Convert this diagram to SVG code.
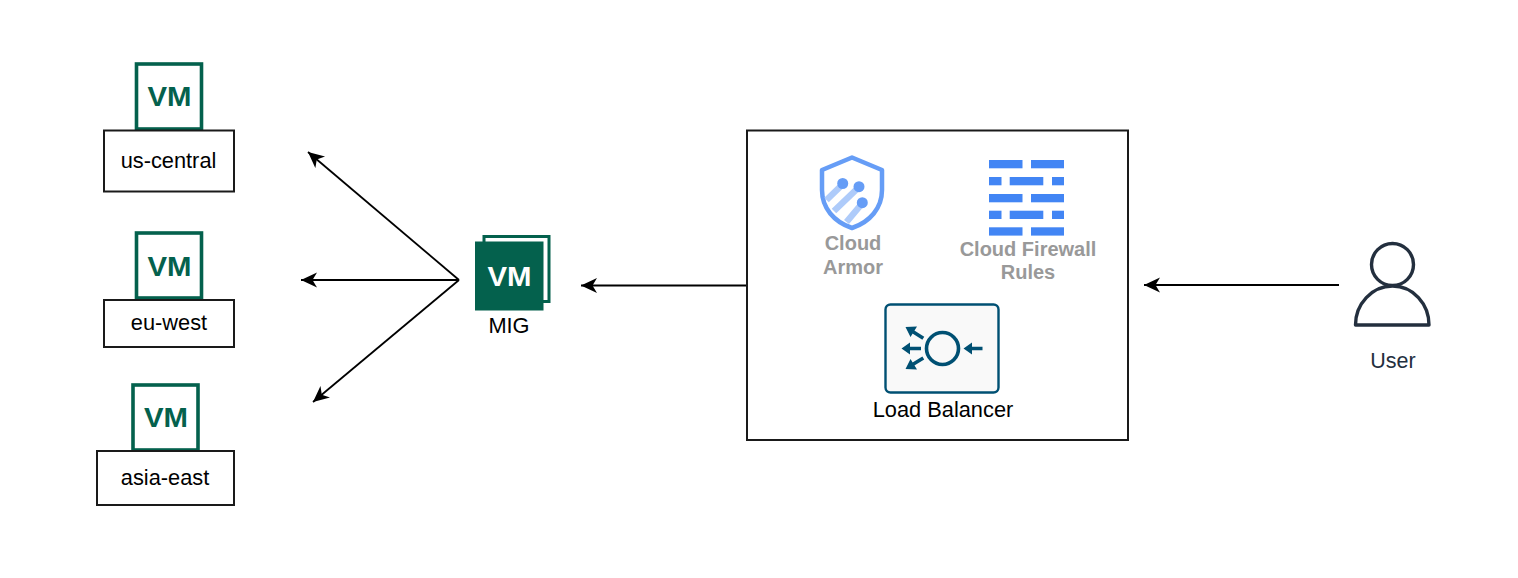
<svg xmlns="http://www.w3.org/2000/svg" width="1518" height="578" viewBox="0 0 1518 578">
<style>
text{font-family:"Liberation Sans",Arial,sans-serif;text-anchor:middle}
.lbl{font-size:21.800px;fill:#000}
.gray{font-size:20px;font-weight:bold;fill:#999}
.vm{font-size:28px;font-weight:bold;fill:#04614d}
.box{fill:#fff;stroke:#1a1a1a;stroke-width:2}
.vmbox{fill:#fff;stroke:#04614d;stroke-width:3.6}
.conn{fill:none;stroke:#000;stroke-width:1.8;marker-end:url(#arrow)}
.fw{fill:#4285f4}
.lb{fill:none;stroke:#005073;stroke-width:3.600}
.lbf{fill:#005073}
</style>
<defs>
<marker id="arrow" markerUnits="userSpaceOnUse" markerWidth="20" markerHeight="18" refX="16" refY="8" orient="auto">
<path d="M16 8L0 0.500L4.500 8L0 15.500Z" fill="#000"/>
</marker>
</defs>
<g id="connectors">
<path class="conn" d="M747 285.500H581"/>
<path class="conn" d="M1339 285H1144"/>
<path class="conn" d="M459 280H301"/>
<path class="conn" d="M459 280L308 152"/>
<path class="conn" d="M459 280L313 402"/>
</g>
<g id="us-central">
<rect class="vmbox" x="136.500" y="64" width="65" height="65"/>
<text class="vm" x="169.500" y="106" textLength="44" lengthAdjust="spacingAndGlyphs">VM</text>
<rect class="box" x="104" y="130.500" width="130" height="61"/>
<text class="lbl" x="168.500" y="167.500">us-central</text>
</g>
<g id="eu-west">
<rect class="vmbox" x="136.500" y="233" width="65" height="65"/>
<text class="vm" x="169.500" y="275.500" textLength="44" lengthAdjust="spacingAndGlyphs">VM</text>
<rect class="box" x="104" y="300" width="130" height="47"/>
<text class="lbl" x="169" y="330">eu-west</text>
</g>
<g id="asia-east">
<rect class="vmbox" x="133" y="385" width="65" height="65"/>
<text class="vm" x="166" y="426.500" textLength="44" lengthAdjust="spacingAndGlyphs">VM</text>
<rect class="box" x="97" y="451" width="137" height="54"/>
<text class="lbl" x="165" y="485">asia-east</text>
</g>
<g id="mig">
<rect x="484" y="236.500" width="65" height="65" fill="#fff" stroke="#04614d" stroke-width="3"/>
<rect x="475" y="241.500" width="68.500" height="69" fill="#04614d"/>
<text x="509.500" y="286" font-size="28" font-weight="bold" fill="#fff" textLength="44" lengthAdjust="spacingAndGlyphs">VM</text>
<text class="lbl" x="509" y="332.500">MIG</text>
</g>
<g id="container">
<rect x="747" y="130.500" width="381" height="309.500" fill="none" stroke="#1a1a1a" stroke-width="2"/>
</g>
<g id="cloud-armor">
<path d="M852 157.500L882 170V190C882 208 870 222 852 228C834 222 822 208 822 190V170Z" fill="#fff" stroke="#669df6" stroke-width="4.500" stroke-linejoin="round"/>
<path d="M826.500 200L843 184M834 211L859 187M846.500 222L862.500 203" fill="none" stroke="#aecbfa" stroke-width="6.500"/>
<circle cx="842.700" cy="183.500" r="5.500" fill="#669df6"/>
<circle cx="859" cy="186.700" r="5.500" fill="#669df6"/>
<circle cx="862.300" cy="202.700" r="5.500" fill="#669df6"/>
<text class="gray" x="853" y="250">Cloud</text>
<text class="gray" x="853" y="274">Armor</text>
</g>
<g id="cloud-firewall-rules">
<rect class="fw" x="989" y="160" width="33.500" height="8.300"/>
<rect class="fw" x="1031" y="160" width="33" height="8.300"/>
<rect class="fw" x="989" y="177" width="12.500" height="8.300"/>
<rect class="fw" x="1009.700" y="177" width="33.600" height="8.300"/>
<rect class="fw" x="1052" y="177" width="12" height="8.300"/>
<rect class="fw" x="989" y="194" width="33.500" height="8.300"/>
<rect class="fw" x="1031" y="194" width="33" height="8.300"/>
<rect class="fw" x="989" y="210.700" width="12.500" height="8.300"/>
<rect class="fw" x="1009.700" y="210.700" width="33.600" height="8.300"/>
<rect class="fw" x="1052" y="210.700" width="12" height="8.300"/>
<rect class="fw" x="989" y="227.300" width="33.500" height="8.300"/>
<rect class="fw" x="1031" y="227.300" width="33" height="8.300"/>
<text class="gray" x="1028" y="256">Cloud Firewall</text>
<text class="gray" x="1028" y="279">Rules</text>
</g>
<g id="load-balancer">
<rect x="885.500" y="304.500" width="113" height="88" rx="5" fill="#f9f9f9" stroke="#005073" stroke-width="2.400"/>
<circle class="lb" cx="942.500" cy="348.500" r="16"/>
<path class="lb" d="M982.500 348.500H969M921 348.500H908M923.300 338.300L911 330.500M923.300 358L911 365.500" stroke-width="4.500"/>
<path class="lbf" d="M963.500 348.500L972 342.500V354.500ZM901.500 348.500L910 342.500V354.500ZM905.500 327L917 326.500L910.500 337ZM905.500 369L910.500 359L917 369.500Z"/>
<text class="lbl" x="943" y="417">Load Balancer</text>
</g>
<g id="user">
<circle cx="1392.500" cy="264.500" r="21" fill="#fff" stroke="#232f3e" stroke-width="3.400"/>
<path d="M1355.500 325C1355.500 304 1372 286 1392.500 286C1413 286 1429 304 1429 325Z" fill="#fff" stroke="#232f3e" stroke-width="3.400" stroke-linejoin="round"/>
<text x="1393" y="368" font-size="21.500" fill="#232f3e">User</text>
</g>
</svg>
